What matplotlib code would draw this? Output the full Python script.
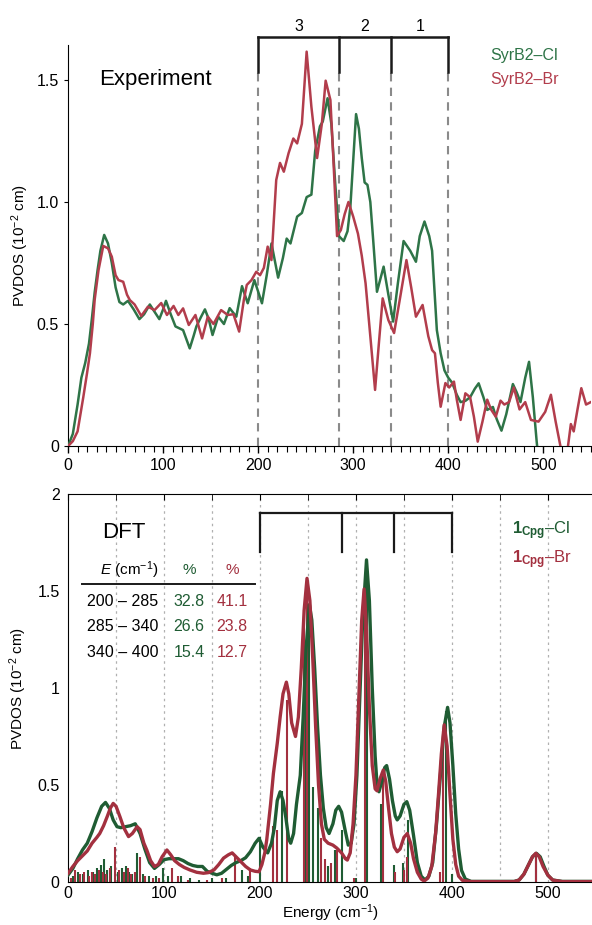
import matplotlib
matplotlib.use("Agg")
import matplotlib.pyplot as plt
from matplotlib.ticker import MultipleLocator, FixedLocator

plt.rcParams['font.family'] = ['Liberation Sans', 'DejaVu Sans']
plt.rcParams['mathtext.fontset'] = 'custom'
plt.rcParams['mathtext.rm'] = 'Liberation Sans'
plt.rcParams['mathtext.it'] = 'Liberation Sans:italic'
plt.rcParams['mathtext.bf'] = 'Liberation Sans:bold'

# ---- experiment (NRVS) ----
exp_cl_e = [0, 5, 10, 14, 18, 22, 25, 28, 31, 34, 38, 42, 46, 50, 54, 58, 63, 69, 75, 80,
            86, 91, 96, 100, 103, 108, 113, 121, 128, 132, 135, 140, 144, 148, 152, 158, 164,
            170, 177, 183, 189, 196, 204, 209, 214, 221, 226, 230, 234, 241, 246, 251, 256,
            260, 265, 268, 273, 277, 281, 285, 290, 294, 297, 303, 306, 309, 312, 315, 318,
            321, 325, 332, 337, 342, 347, 353, 360, 366, 370, 375, 380, 383, 388, 392, 396,
            400, 404, 409, 413, 418, 423, 428, 432, 437, 441, 447, 451, 456, 461, 468, 472,
            476, 481, 485, 489, 493, 496]
exp_cl_v = [0, 0.05, 0.17, 0.28, 0.34, 0.42, 0.52, 0.63, 0.72, 0.80, 0.865, 0.83, 0.75, 0.65,
            0.59, 0.58, 0.595, 0.56, 0.52, 0.54, 0.58, 0.55, 0.52, 0.56, 0.595, 0.54, 0.49,
            0.475, 0.40, 0.45, 0.49, 0.53, 0.56, 0.52, 0.455, 0.53, 0.50, 0.565, 0.53, 0.655,
            0.585, 0.68, 0.585, 0.70, 0.83, 0.69, 0.77, 0.85, 0.83, 0.94, 0.955, 1.02, 1.03,
            1.21, 1.31, 1.33, 1.425, 1.32, 1.08, 0.86, 0.84, 0.88, 0.98, 1.36, 1.30, 1.18,
            1.08, 1.07, 1.0, 0.845, 0.632, 0.735, 0.62, 0.51, 0.667, 0.84, 0.80, 0.755, 0.86,
            0.92, 0.86, 0.80, 0.475, 0.38, 0.31, 0.28, 0.26, 0.21, 0.18, 0.185, 0.20, 0.235,
            0.257, 0.20, 0.148, 0.16, 0.11, 0.063, 0.13, 0.254, 0.22, 0.18, 0.28, 0.345, 0.20,
            0.02, -0.1]

exp_br_e = [0, 5, 10, 16, 20, 23, 26, 28, 32, 37, 42, 46, 50, 53, 58, 62, 65, 70, 77, 84,
            91, 98, 104, 111, 116, 121, 127, 134, 141, 147, 153, 161, 168, 174, 180, 185,
            188, 193, 198, 202, 206, 210, 214, 219, 223, 227, 232, 237, 241, 246, 251, 256,
            262, 267, 271, 276, 279, 283, 287, 291, 295, 300, 305, 309, 313, 318, 323, 327,
            331, 337, 343, 349, 356, 361, 366, 373, 379, 383, 386, 389, 392, 397, 401, 406,
            409, 413, 418, 423, 427, 431, 436, 441, 445, 450, 455, 459, 464, 469, 475, 481,
            487, 495, 502, 508, 513, 518, 522, 526, 529, 532, 536, 540, 545, 550]
exp_br_v = [0, 0.02, 0.06, 0.20, 0.30, 0.38, 0.50, 0.60, 0.72, 0.82, 0.81, 0.776, 0.70,
            0.68, 0.673, 0.62, 0.598, 0.58, 0.533, 0.571, 0.557, 0.586, 0.537, 0.574, 0.537,
            0.564, 0.496, 0.537, 0.441, 0.53, 0.50, 0.557, 0.537, 0.54, 0.469, 0.60, 0.66,
            0.68, 0.714, 0.70, 0.73, 0.817, 0.762, 1.09, 1.16, 1.124, 1.20, 1.26, 1.24, 1.32,
            1.616, 1.39, 1.18, 1.32, 1.497, 1.418, 1.186, 0.86, 0.885, 0.95, 1.0, 0.94, 0.87,
            0.78, 0.667, 0.45, 0.23, 0.42, 0.605, 0.516, 0.463, 0.60, 0.762, 0.65, 0.53,
            0.578, 0.45, 0.393, 0.38, 0.26, 0.161, 0.258, 0.24, 0.264, 0.19, 0.107, 0.216,
            0.20, 0.12, 0.018, 0.10, 0.19, 0.15, 0.12, 0.186, 0.17, 0.18, 0.24, 0.15, 0.18,
            0.107, 0.10, 0.14, 0.21, 0.10, 0.0, -0.06, 0.0, 0.09, 0.06, 0.15, 0.237, 0.17,
            0.18]

# ---- DFT ----
dft_cl_e = [0, 5, 10, 15, 20, 25, 30, 35, 39, 43, 47, 51, 55, 60, 65, 70, 75, 80, 85, 90,
            95, 100, 105, 110, 115, 120, 125, 130, 135, 140, 145, 150, 155, 160, 165, 170,
            175, 180, 185, 190, 195, 199, 203, 208, 212, 215, 218, 221, 224, 227, 230, 232,
            235, 238, 242, 245, 248, 251.5, 254, 257, 260, 263, 266, 269, 272, 276, 279, 282,
            285, 289, 292, 295, 298, 301, 304, 307, 311, 314, 317, 320, 322, 324, 327, 330,
            332, 335, 338, 341, 343, 346, 350, 353, 356, 360, 364, 368, 372, 376, 380, 384,
            388, 392, 395.5, 398, 401, 404, 407, 410, 414, 420, 465, 470, 475, 480, 484, 488,
            492, 496, 500, 505, 515, 550]
dft_cl_v = [0.036, 0.07, 0.12, 0.165, 0.20, 0.26, 0.33, 0.39, 0.41, 0.38, 0.32, 0.285, 0.28,
            0.285, 0.29, 0.30, 0.25, 0.17, 0.10, 0.07, 0.09, 0.115, 0.12, 0.12, 0.12, 0.11,
            0.095, 0.085, 0.08, 0.08, 0.055, 0.045, 0.037, 0.045, 0.065, 0.085, 0.10, 0.11,
            0.125, 0.156, 0.20, 0.225, 0.18, 0.15, 0.20, 0.28, 0.42, 0.465, 0.42, 0.33, 0.22,
            0.20, 0.25, 0.40, 0.55, 0.85, 1.20, 1.43, 1.35, 1.10, 0.80, 0.55, 0.38, 0.28, 0.25,
            0.30, 0.37, 0.39, 0.36, 0.26, 0.19, 0.20, 0.30, 0.55, 0.95, 1.35, 1.66, 1.45, 1.0,
            0.65, 0.50, 0.465, 0.52, 0.59, 0.60, 0.53, 0.42, 0.34, 0.32, 0.34, 0.40, 0.414,
            0.37, 0.24, 0.10, 0.03, 0.01, 0.03, 0.10, 0.30, 0.55, 0.80, 0.90, 0.82, 0.60, 0.35,
            0.17, 0.06, 0.015, 0.003, 0.003, 0.01, 0.04, 0.09, 0.13, 0.148, 0.13, 0.08, 0.035,
            0.01, 0.003, 0.003]

dft_br_e = [0, 5, 10, 15, 20, 25, 30, 33, 37, 41, 44, 47, 50, 54, 58, 63, 67, 72, 75, 79,
            82, 86, 90, 94, 98, 103, 107, 111, 116, 121, 127, 134, 141, 146, 152, 157, 162,
            167, 171, 175, 180, 185, 190, 195, 199, 202, 205, 207, 211, 214, 218, 221, 224,
            227.5, 230, 233, 237, 240, 243, 246, 249, 252, 255, 258, 261, 264, 267, 271, 276,
            280, 285, 289, 291, 294, 297, 300, 303, 306, 308.5, 311, 314, 317, 320, 322, 325,
            328.5, 331, 334, 337, 340, 343, 346, 350, 353.5, 357, 360, 364, 368, 371, 375,
            379, 383, 386, 389, 392, 395, 398, 401, 404, 407, 411, 420, 465, 470, 475, 480,
            484, 487.5, 491, 495, 500, 505, 515, 550]
dft_br_v = [0.045, 0.08, 0.11, 0.135, 0.16, 0.20, 0.23, 0.25, 0.29, 0.34, 0.38, 0.405, 0.39,
            0.337, 0.28, 0.234, 0.25, 0.285, 0.27, 0.20, 0.165, 0.11, 0.08, 0.09, 0.13, 0.165,
            0.14, 0.11, 0.09, 0.075, 0.062, 0.05, 0.045, 0.048, 0.062, 0.09, 0.123, 0.14,
            0.15, 0.13, 0.105, 0.08, 0.062, 0.055, 0.053, 0.09, 0.15, 0.216, 0.40, 0.56, 0.715,
            0.85, 0.97, 1.03, 0.97, 0.82, 0.75, 0.85, 1.10, 1.40, 1.565, 1.45, 1.15, 0.80, 0.50,
            0.30, 0.22, 0.20, 0.19, 0.175, 0.15, 0.12, 0.113, 0.15, 0.30, 0.55, 0.95, 1.35,
            1.51, 1.30, 0.90, 0.60, 0.48, 0.47, 0.53, 0.577, 0.52, 0.38, 0.25, 0.18, 0.156,
            0.17, 0.23, 0.25, 0.20, 0.12, 0.05, 0.015, 0.005, 0.02, 0.08, 0.25, 0.45, 0.66,
            0.81, 0.70, 0.45, 0.22, 0.09, 0.03, 0.008, 0.002, 0.002, 0.01, 0.04, 0.09, 0.13,
            0.148, 0.13, 0.08, 0.035, 0.01, 0.002, 0.002]

# stick spectra
stick_cl_e = [5, 10, 16, 21, 26, 30, 34, 37, 41, 45, 52, 56, 60, 64, 67, 72, 78, 84, 92, 99,
              104, 118, 127, 136, 150, 165, 181, 188, 200, 223, 248, 251, 255, 260, 271, 278,
              285, 300, 311, 326, 340, 349, 354, 394, 400, 488]
stick_cl_h = [0.03, 0.05, 0.04, 0.06, 0.05, 0.07, 0.09, 0.12, 0.06, 0.08, 0.05, 0.07, 0.08,
              0.05, 0.04, 0.15, 0.04, 0.03, 0.03, 0.07, 0.03, 0.03, 0.02, 0.01, 0.02, 0.02,
              0.06, 0.03, 0.23, 0.47, 1.20, 1.38, 0.49, 0.38, 0.08, 0.165, 0.27, 0.02, 1.62,
              0.40, 0.09, 0.10, 0.32, 0.88, 0.04, 0.15]
stick_br_e = [3, 7, 12, 17, 22, 25, 28, 32, 36, 40, 44, 49, 53, 58, 62, 66, 70, 74.5, 80, 88,
              95, 108, 115, 125, 145, 160, 174, 190, 214, 218, 228, 246, 249, 264, 268, 274.5,
              280.5, 298, 309, 328, 341, 350, 353, 388, 391, 487.5]
stick_br_h = [0.02, 0.06, 0.04, 0.05, 0.03, 0.05, 0.04, 0.06, 0.05, 0.04, 0.07, 0.18, 0.06,
              0.05, 0.07, 0.04, 0.05, 0.13, 0.03, 0.02, 0.02, 0.07, 0.03, 0.01, 0.01, 0.02,
              0.13, 0.07, 0.29, 0.27, 0.94, 1.40, 1.50, 0.225, 0.12, 0.10, 0.165, 0.02, 1.50,
              0.55, 0.05, 0.06, 0.13, 0.05, 0.78, 0.148]

# energy windows and table
bounds = [200, 285, 340, 400]
region_labels = ['3', '2', '1']
table_ranges = ['200 – 285', '285 – 340', '340 – 400']
pct_cl = ['32.8', '26.6', '15.4']
pct_br = ['41.1', '23.8', '12.7']

green_exp, red_exp = '#2e7447', '#b23d4c'
green_dft, red_dft = '#1f5c33', '#a3303f'

fig = plt.figure(figsize=(5.92, 9.25), dpi=100)
ax1 = fig.add_axes([0.115, 0.5178, 0.883, 0.4335])
ax2 = fig.add_axes([0.115, 0.0465, 0.885, 0.4195])

# --- top panel ---
ax1.plot(exp_cl_e, exp_cl_v, color=green_exp, lw=1.8, zorder=3)
ax1.plot(exp_br_e, exp_br_v, color=red_exp, lw=1.8, zorder=3)
ax1.set_xlim(0, 550)
ax1.set_ylim(0, 1.643)
for b in bounds:
    ax1.plot([b, b], [0, 1.533], color='#8a8a8a', lw=1.5, ls=(0, (4, 3)), zorder=1)
    ax1.plot([b, b], [1.533, 1.676], color='#1a1a1a', lw=1.8, clip_on=False)
ax1.plot([bounds[0], bounds[-1]], [1.676, 1.676], color='#1a1a1a', lw=1.8, clip_on=False)
for i, lab in enumerate(region_labels):
    xm = (bounds[i] + bounds[i + 1]) / 2
    ax1.text(xm, 1.69, lab, ha='center', va='bottom', fontsize=11.5)
ax1.text(33, 1.50, 'Experiment', fontsize=16, va='center')
ax1.text(444, 1.60, 'SyrB2–Cl', color=green_exp, fontsize=11.5, va='center')
ax1.text(444, 1.50, 'SyrB2–Br', color=red_exp, fontsize=11.5, va='center')
for s in ['top', 'right']:
    ax1.spines[s].set_visible(False)
ax1.xaxis.set_major_locator(MultipleLocator(100))
ax1.xaxis.set_minor_locator(MultipleLocator(10))
ax1.yaxis.set_major_locator(FixedLocator([0, 0.5, 1.0, 1.5]))
ax1.set_yticklabels(['0', '0.5', '1.0', '1.5'])
ax1.tick_params(axis='x', which='major', length=5, width=1, labelsize=11.5)
ax1.tick_params(axis='x', which='minor', length=4, width=0.8)
ax1.tick_params(axis='y', length=3, labelsize=11.5)
ax1.set_ylabel('PVDOS (10$^{-2}$ cm)', fontsize=11, labelpad=4)

# --- bottom panel ---
ax2.vlines(stick_cl_e, 0, stick_cl_h, color=green_dft, lw=1.5, zorder=2)
ax2.vlines(stick_br_e, 0, stick_br_h, color=red_dft, lw=1.5, zorder=2)
ax2.plot(dft_cl_e, dft_cl_v, color=green_dft, lw=2.4, zorder=3)
ax2.plot(dft_br_e, dft_br_v, color=red_dft, lw=2.4, zorder=3)
ax2.set_xlim(0, 546)
ax2.set_ylim(0, 2)
for g in range(50, 501, 50):
    ax2.axvline(g, color='#b0b0b0', lw=0.9, ls=(0, (2, 3)), zorder=0)
ax2.plot([bounds[0], bounds[-1]], [1.90, 1.90], color='#1a1a1a', lw=1.6)
for b in bounds:
    ax2.plot([b, b], [1.70, 1.90], color='#1a1a1a', lw=1.6)
ax2.spines['right'].set_visible(False)
ax2.xaxis.set_major_locator(MultipleLocator(100))
ax2.xaxis.set_minor_locator(MultipleLocator(50))
ax2.yaxis.set_major_locator(FixedLocator([0, 0.5, 1, 1.5, 2]))
ax2.set_yticklabels(['0', '0.5', '1', '1.5', '2'])
ax2.tick_params(axis='x', which='both', bottom=False, top=True, direction='in',
                length=4, labelsize=11.5, pad=3)
ax2.tick_params(axis='y', length=0, labelsize=11.5, pad=6)
ax2.set_xlabel('Energy (cm$^{-1}$)', fontsize=11, labelpad=1)
ax2.set_ylabel('PVDOS (10$^{-2}$ cm)', fontsize=11, labelpad=6)

ax2.text(58, 1.80, 'DFT', fontsize=16, ha='center', va='center')
ax2.text(33, 1.608, '$E$ (cm$^{-1}$)', fontsize=11, va='center')
ax2.text(126, 1.608, '%', color=green_dft, fontsize=11, ha='center', va='center')
ax2.text(171, 1.608, '%', color=red_dft, fontsize=11, ha='center', va='center')
ax2.plot([14, 195], [1.536, 1.536], color='#1a1a1a', lw=1.4)
row_y = [1.445, 1.316, 1.182]
for i in range(3):
    ax2.text(19.5, row_y[i], table_ranges[i], fontsize=11.5, va='center')
    ax2.text(126, row_y[i], pct_cl[i], color=green_dft, fontsize=11.5, ha='center', va='center')
    ax2.text(171, row_y[i], pct_br[i], color=red_dft, fontsize=11.5, ha='center', va='center')
ax2.text(463, 1.81, r'$\mathbf{1}_{\mathbf{Cpg}}$–Cl', color=green_dft, fontsize=12, va='center')
ax2.text(463, 1.66, r'$\mathbf{1}_{\mathbf{Cpg}}$–Br', color=red_dft, fontsize=12, va='center')

fig.savefig('out.png', dpi=100)
